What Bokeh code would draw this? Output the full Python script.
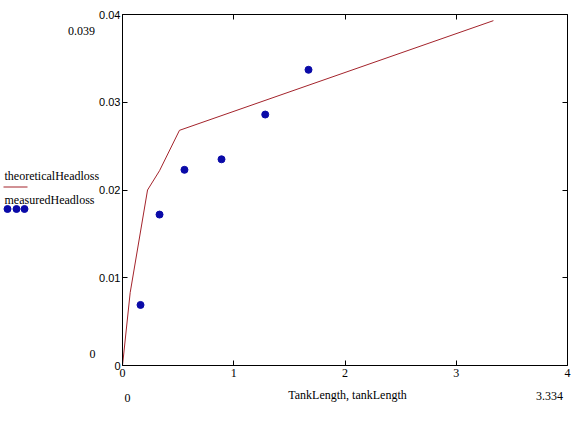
from bokeh.plotting import figure
from bokeh.models import (Range1d, LinearAxis, FixedTicker, NumeralTickFormatter,
                          Label)
from bokeh.core.properties import value
from bokeh.embed import file_html
from bokeh.resources import INLINE

# ---- data ----
theory_length = [0.0, 0.069, 0.225, 0.333, 0.512, 3.334]
theory_headloss = [0.0, 0.0083, 0.0200, 0.0222, 0.0268, 0.0393]
tank_length = [0.162, 0.333, 0.557, 0.890, 1.283, 1.672]
measured_headloss = [0.0069, 0.0172, 0.0223, 0.0235, 0.0286, 0.0337]
x_ticks = [0, 1, 2, 3, 4]
y_ticks = [0, 0.01, 0.02, 0.03, 0.04]
series_names = ["theoreticalHeadloss", "measuredHeadloss"]
x_name = "TankLength, tankLength"
x_limits = ["0", "3.334"]
y_limits = ["0.039", "0"]

LINE_COLOR = "#a3232b"
DOT_COLOR = "#0a0aa8"
W, H = 575, 426

# pixel geometry of the plot box inside the canvas
BOX_L, BOX_R, BOX_T, BOX_B = 122, 567, 14, 365
XMIN, XMAX, YMIN, YMAX = 0, 4, 0, 0.04
sx = (BOX_R - BOX_L) / (XMAX - XMIN)
sy = (BOX_B - BOX_T) / (YMAX - YMIN)

p = figure(width=W, height=H, output_backend="svg", toolbar_location=None,
           x_range=Range1d(XMIN - BOX_L / sx, XMAX + (W - BOX_R) / sx),
           y_range=Range1d(YMIN - (H - BOX_B) / sy, YMAX + BOX_T / sy),
           min_border=0, x_axis_location=None, y_axis_location=None)
p.grid.visible = False
p.outline_line_color = None
p.background_fill_color = "white"
p.border_fill_color = "white"

def style(ax, font, size, standoff):
    ax.axis_line_color = "black"
    ax.major_tick_in = 5
    ax.major_tick_out = 0
    ax.minor_tick_line_color = None
    ax.major_tick_line_color = "black"
    ax.major_label_standoff = standoff
    ax.major_label_text_font = font
    ax.major_label_text_color = "black"
    ax.major_label_text_font_size = size

xb = LinearAxis(ticker=FixedTicker(ticks=x_ticks), fixed_location=YMIN,
                bounds=(XMIN, XMAX))
style(xb, "Liberation Serif", "12px", 3)
p.add_layout(xb, "below")
xt = LinearAxis(ticker=FixedTicker(ticks=x_ticks), fixed_location=YMAX,
                bounds=(XMIN, XMAX),
                major_label_overrides={t: "" for t in x_ticks})
style(xt, "Liberation Serif", "12px", 0)
p.add_layout(xt, "above")
yl = LinearAxis(ticker=FixedTicker(ticks=y_ticks), fixed_location=XMIN,
                bounds=(YMIN, YMAX),
                formatter=NumeralTickFormatter(format="0.[00]"))
style(yl, "Liberation Sans", "11px", 2)
p.add_layout(yl, "left")
yr = LinearAxis(ticker=FixedTicker(ticks=y_ticks), fixed_location=XMAX,
                bounds=(YMIN, YMAX),
                major_label_overrides={t: "" for t in y_ticks})
style(yr, "Liberation Sans", "11px", 0)
p.add_layout(yr, "right")

p.line(theory_length, theory_headloss, line_color=LINE_COLOR, line_width=1)
p.scatter(tank_length, measured_headloss, size=7, fill_color=DOT_COLOR,
          line_color=DOT_COLOR)

def dx(px):
    return XMIN + (px - BOX_L) / sx

def dy(py):
    return YMIN + (BOX_B - py) / sy

def lab(px, py, t):
    p.add_layout(Label(x=dx(px), y=dy(py), text=t, text_font="Liberation Serif",
                       text_font_size="12px", text_align="center",
                       text_baseline="middle", text_color="black"))

lab(81, 30, y_limits[0])
lab(92, 353, y_limits[1])
lab(127, 397, x_limits[0])
lab(549, 395, x_limits[1])
lab(347, 394, x_name)

# ---- legend (to the left of the plot box) ----
p.text(x=[dx(4), dx(4)], y=[dy(175), dy(199)], text=series_names,
       text_font=value("Liberation Serif"), text_font_size="12px",
       text_align="left", text_baseline="middle", text_color="black")
p.line([dx(3), dx(27)], [dy(186.5), dy(186.5)], line_color=LINE_COLOR,
       line_width=1)
p.scatter([dx(7), dx(16), dx(24)], [dy(208.5)] * 3, size=7,
          fill_color=DOT_COLOR, line_color=DOT_COLOR)

open("out.html", "w").write(file_html(p, INLINE))
